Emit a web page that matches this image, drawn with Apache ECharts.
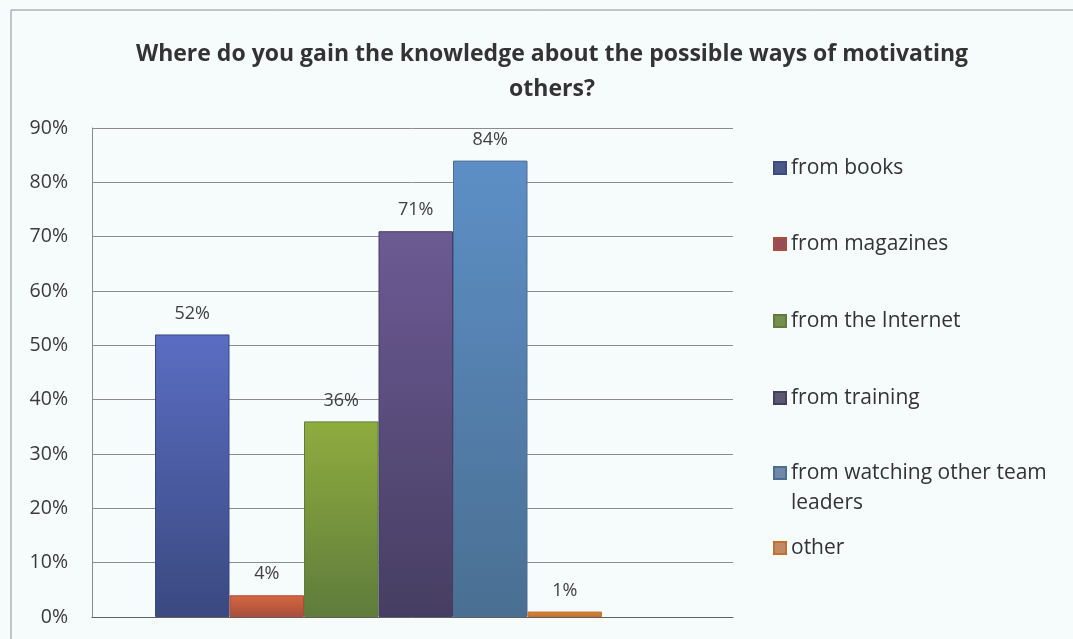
<!DOCTYPE html>
<html>
<head>
<meta charset="utf-8">
<script src="https://cdn.jsdelivr.net/npm/echarts@6/dist/echarts.min.js"></script>
<style>
  html, body { margin: 0; padding: 0; background: #f6fbfc; }
  #chart { width: 1073px; height: 639px; }
</style>
</head>
<body>
<div id="chart"></div>
<script>
// Survey answers: where team leaders learn about ways of motivating others
const sources = [
  'from books',
  'from magazines',
  'from the Internet',
  'from training',
  'from watching other team leaders',
  'other'
];
const shares = [0.52, 0.04, 0.36, 0.71, 0.84, 0.01];
const yTicks = [0, 0.1, 0.2, 0.3, 0.4, 0.5, 0.6, 0.7, 0.8, 0.9];

// bar shading: top colour, bottom colour, legend swatch colour
const barTop    = ['#5a6dc2', '#d4673f', '#8fac3e', '#6c5a94', '#5d8fc6', '#dc8a36'];
const barBottom = ['#3a4980', '#a84e3c', '#5f7c3c', '#463e62', '#4a6f92', '#c07030'];
const swatch    = ['#4b5888', '#9a4b58', '#768f4f', '#5b5872', '#7088aa', '#c08a64'];

const legendCenters = [168, 244, 321, 398, 473, 548];
const LINE_H = 30;

const chart = echarts.init(document.getElementById('chart'));
const font = '"Open Sans", "Liberation Sans", sans-serif';

const series = sources.map((name, i) => ({
  name: name,
  type: 'bar',
  xAxisIndex: 1,
  yAxisIndex: 1,
  barGap: '0%',
  barWidth: 74.5,
  data: [shares[i]],
  itemStyle: {
    color: new echarts.graphic.LinearGradient(0, 0, 0, 1, [
      { offset: 0, color: barTop[i] },
      { offset: 1, color: barBottom[i] }
    ]),
    borderColor: barBottom[i],
    borderWidth: 1
  },
  label: {
    show: true,
    position: 'top',
    distance: 12,
    color: '#404040',
    fontFamily: font,
    fontSize: 18,
    formatter: p => Math.round(p.value * 100) + '%'
  }
}));

const legends = sources.map((name, i) => {
  const wrapped = name === 'from watching other team leaders';
  return {
    orient: 'vertical',
    left: 773,
    top: legendCenters[i] - (wrapped ? 1.5 * LINE_H : 0.5 * LINE_H),
    padding: 0,
    itemWidth: 12,
    itemHeight: 12,
    itemGap: 0,
    selectedMode: false,
    icon: 'rect',
    data: [{ name: name, itemStyle: { color: swatch[i] } }],
    formatter: wrapped ? () => '\nfrom watching other team\nleaders' : undefined,
    textStyle: {
      color: '#333333',
      fontFamily: font,
      fontSize: 21,
      lineHeight: LINE_H
    }
  };
});

chart.setOption({
  backgroundColor: '#f6fbfc',
  animation: false,
  title: {
    text: 'Where do you gain the knowledge about the possible ways of motivating\nothers?',
    left: 547,
    textAlign: 'center',
    top: 32,
    textStyle: {
      color: '#333333',
      fontFamily: font,
      fontWeight: 'bold',
      fontSize: 23,
      lineHeight: 35
    }
  },
  graphic: [{
    type: 'rect',
    shape: { x: 11, y: 10, width: 1200, height: 800 },
    style: { fill: 'none', stroke: '#8a8f94', lineWidth: 1 },
    silent: true,
    z: -1
  }],
  legend: legends,
  grid: [
    // gridlines and value axis
    { left: 92, right: 340, top: 128, bottom: 22 },
    // bar cluster
    { left: 92, right: 408, top: 128, bottom: 22 }
  ],
  xAxis: [
    {
      gridIndex: 0, type: 'category', data: [''],
      axisLine: { show: true, lineStyle: { color: '#606060', width: 1 } },
      axisTick: { show: false }, axisLabel: { show: false }
    },
    {
      gridIndex: 1, type: 'category', data: [''],
      axisLine: { show: false }, axisTick: { show: false }, axisLabel: { show: false }
    }
  ],
  yAxis: [
    {
      gridIndex: 0, type: 'value', min: yTicks[0], max: yTicks[yTicks.length - 1], interval: 0.1,
      axisLine: { show: true, lineStyle: { color: '#8a8a8a' } },
      axisTick: { show: false },
      splitLine: { lineStyle: { color: '#8c8c8c', width: 1 } },
      axisLabel: {
        margin: 24,
        color: '#3a3a3a',
        fontFamily: font,
        fontSize: 19.5,
        formatter: v => Math.round(v * 100) + '%'
      }
    },
    {
      gridIndex: 1, type: 'value', min: yTicks[0], max: yTicks[yTicks.length - 1], interval: 0.1,
      show: false, splitLine: { show: false }
    }
  ],
  series: series
});
</script>
</body>
</html>
